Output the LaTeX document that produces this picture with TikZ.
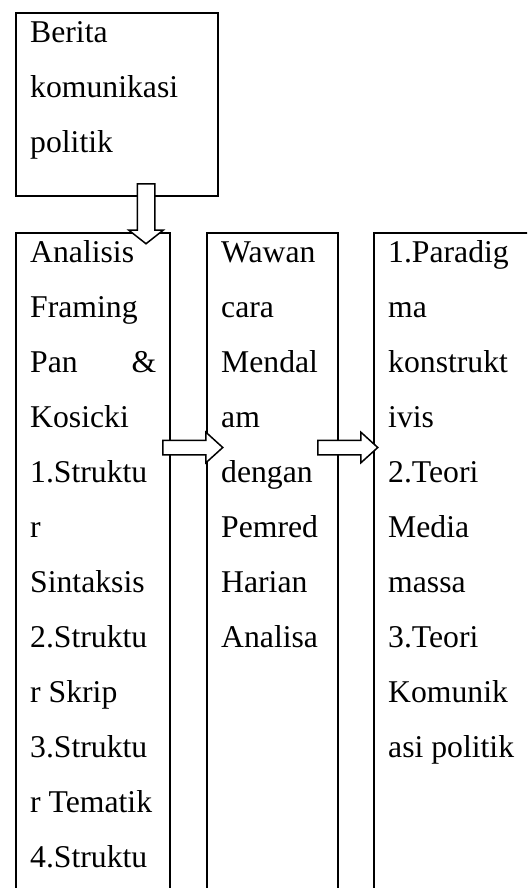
\documentclass[tikz,border=0pt]{standalone}
\usepackage{fontspec}
\setmainfont{Liberation Serif}
\usetikzlibrary{shapes.arrows}
\newcommand{\colfont}{\fontsize{31.7}{55}\selectfont}
\newcommand{\firstrow}{\rule{0pt}{29.5pt}}
\begin{document}
\begin{tikzpicture}[x=1pt, y=1pt,
  box/.style={draw, line width=2.4pt, inner xsep=14pt, inner ysep=0pt, anchor=north west, font=\colfont},
  blockarrow/.style={single arrow, draw, fill=white, line width=1.5pt, inner xsep=0pt, minimum height=60pt, anchor=tail}]
  \useasboundingbox (0,0) rectangle (527,-888);
  \clip (0,0) rectangle (527,-888);
  \node[box] (berita) at (15,-12) {\parbox[t][183pt][t]{174pt}{\firstrow Berita\\ komunikasi\\ politik}};
  \node[box] (framing) at (15,-232) {\parbox[t][668pt][t]{126pt}{\firstrow Analisis\\ Framing\\ Pan \hfill \&\\ Kosicki\\ 1.Struktu\\ r\\ Sintaksis\\ 2.Struktu\\ r Skrip\\ 3.Struktu\\ r Tematik\\ 4.Struktu}};
  \node[box] (wawancara) at (206,-232) {\parbox[t][668pt][t]{103pt}{\firstrow Wawan\\ cara\\ Mendal\\ am\\ dengan\\ Pemred\\ Harian\\ Analisa}};
  \node[box] (teori) at (373,-232) {\parbox[t][668pt][t]{199pt}{\firstrow 1.Paradig\\ ma\\ konstrukt\\ ivis\\ 2.Teori\\ Media\\ massa\\ 3.Teori\\ Komunik\\ asi politik}};
  \node[blockarrow, rotate=-90, inner ysep=8pt, single arrow head extend=8.5pt, single arrow tip angle=103.5] (kebawah) at (146,-183) {};
  \node[blockarrow, inner ysep=6.5pt, single arrow head extend=8pt, single arrow tip angle=84.4] (kewawancara) at (162,-447.5) {};
  \node[blockarrow, inner ysep=6.5pt, single arrow head extend=8pt, single arrow tip angle=84.4] (keteori) at (317,-447.5) {};
\end{tikzpicture}
\end{document}
